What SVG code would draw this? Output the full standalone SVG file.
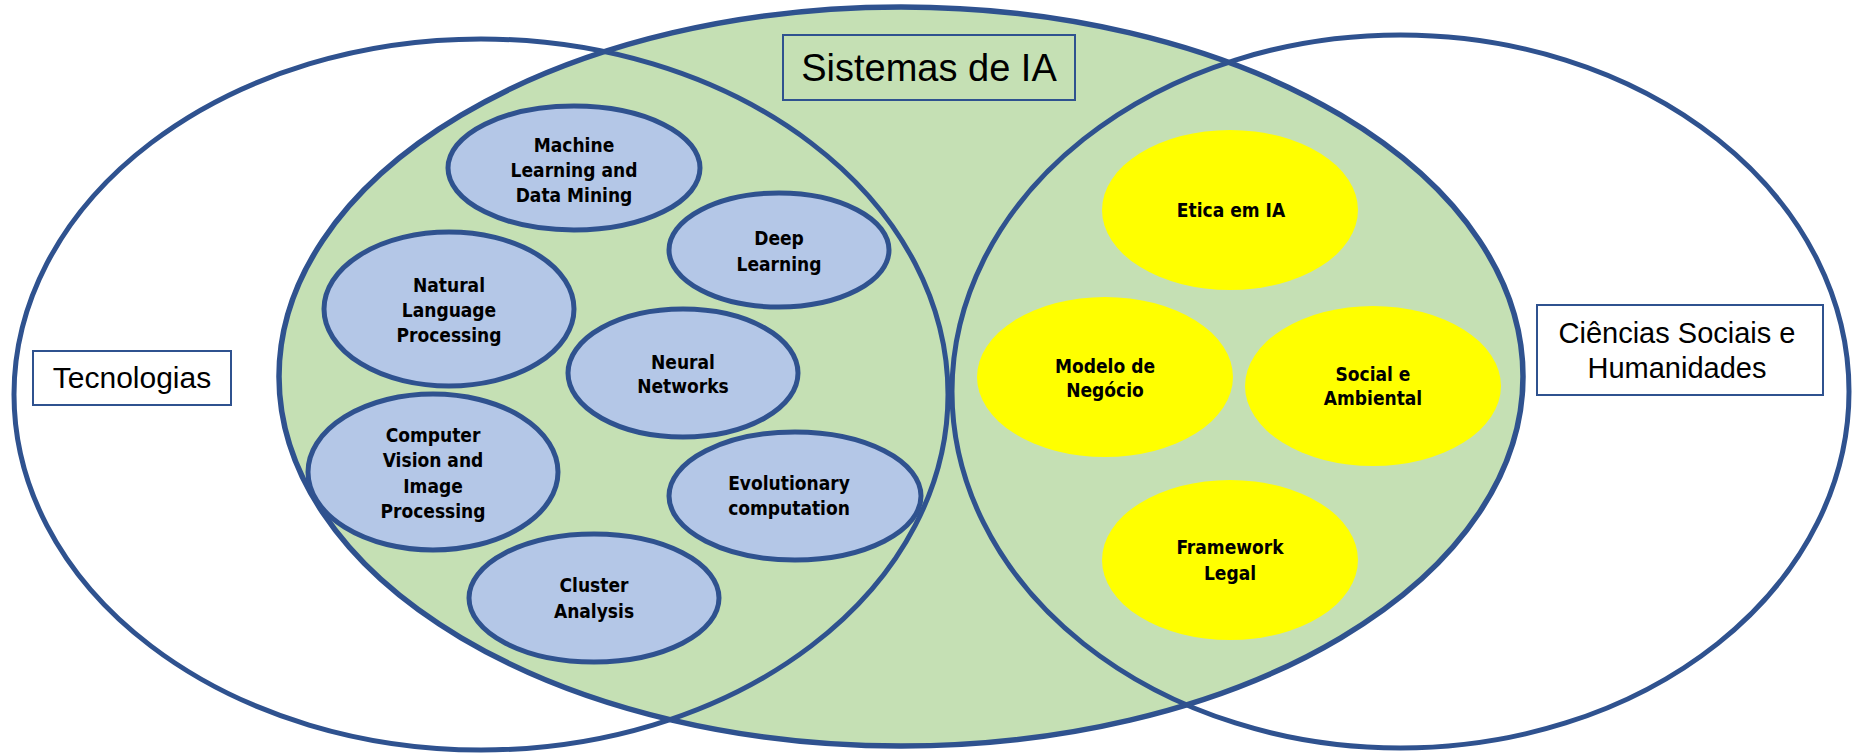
<svg xmlns="http://www.w3.org/2000/svg" width="1858" height="754" viewBox="0 0 1858 754">
<style>
.big{fill:none;stroke:#2F528F;stroke-width:5}
.tech{fill:#B4C7E7;stroke:#2F528F;stroke-width:5}
.soc{fill:#FFFF00;stroke:none}
.nt{font-family:'DejaVu Sans Condensed','DejaVu Sans',sans-serif;font-weight:bold;font-size:19px;fill:#000;text-anchor:middle}
.lbl{font-family:'Liberation Sans',Arial,sans-serif;fill:#000;text-anchor:middle}
.box{stroke:#2F528F;stroke-width:2}
</style>
<rect width="1858" height="754" fill="#FFFFFF"/>
<g id="backgrounds">
<ellipse cx="481" cy="394.5" rx="467" ry="355.5" fill="#FFFFFF"/>
<ellipse cx="1400.5" cy="391.5" rx="448.5" ry="356.5" fill="#FFFFFF"/>
<ellipse cx="901" cy="376.5" rx="622" ry="369.5" fill="#C5E0B4"/>
</g>
<g id="tecnologias-set">
<ellipse class="big" cx="481" cy="394.5" rx="467" ry="355.5"/>
</g>
<g id="ciencias-set">
<ellipse class="big" cx="1400.5" cy="391.5" rx="448.5" ry="356.5"/>
</g>
<g id="sistemas-set">
<ellipse class="big" cx="901" cy="376.5" rx="622" ry="369.5" style="stroke-width:5.5"/>
</g>
<g id="label-sistemas">
<rect class="box" x="783" y="35" width="292" height="65" fill="#C5E0B4"/>
<text class="lbl" x="929" y="81" font-size="38">Sistemas de IA</text>
</g>
<g id="label-tecnologias">
<rect class="box" x="33" y="351" width="198" height="54" fill="#FFFFFF"/>
<text class="lbl" x="132" y="388" font-size="30">Tecnologias</text>
</g>
<g id="label-ciencias">
<rect class="box" x="1537" y="305" width="286" height="90" fill="#FFFFFF"/>
<text class="lbl" x="1677" y="343" font-size="29">Ciências Sociais e</text>
<text class="lbl" x="1677" y="378" font-size="29">Humanidades</text>
</g>
<g id="node-ml">
<ellipse class="tech" cx="574" cy="168" rx="126" ry="62"/>
<text class="nt" x="574" y="152">Machine</text>
<text class="nt" x="574" y="177">Learning and</text>
<text class="nt" x="574" y="202">Data Mining</text>
</g>
<g id="node-deep">
<ellipse class="tech" cx="779" cy="250" rx="110" ry="57"/>
<text class="nt" x="779" y="245">Deep</text>
<text class="nt" x="779" y="271">Learning</text>
</g>
<g id="node-nlp">
<ellipse class="tech" cx="449" cy="309" rx="125" ry="77"/>
<text class="nt" x="449" y="292">Natural</text>
<text class="nt" x="449" y="317">Language</text>
<text class="nt" x="449" y="342">Processing</text>
</g>
<g id="node-nn">
<ellipse class="tech" cx="683" cy="373" rx="115" ry="64"/>
<text class="nt" x="683" y="369">Neural</text>
<text class="nt" x="683" y="393">Networks</text>
</g>
<g id="node-cv">
<ellipse class="tech" cx="433" cy="472" rx="125" ry="78"/>
<text class="nt" x="433" y="442">Computer</text>
<text class="nt" x="433" y="467">Vision and</text>
<text class="nt" x="433" y="493">Image</text>
<text class="nt" x="433" y="518">Processing</text>
</g>
<g id="node-evo">
<ellipse class="tech" cx="795" cy="496" rx="126" ry="64"/>
<text class="nt" x="789" y="490">Evolutionary</text>
<text class="nt" x="789" y="515">computation</text>
</g>
<g id="node-cluster">
<ellipse class="tech" cx="594" cy="598" rx="125" ry="64"/>
<text class="nt" x="594" y="592">Cluster</text>
<text class="nt" x="594" y="618">Analysis</text>
</g>
<g id="node-etica">
<ellipse class="soc" cx="1230" cy="210" rx="128" ry="80"/>
<text class="nt" x="1231" y="217">Etica em IA</text>
</g>
<g id="node-modelo">
<ellipse class="soc" cx="1105" cy="377" rx="128" ry="80"/>
<text class="nt" x="1105" y="373">Modelo de</text>
<text class="nt" x="1105" y="397">Negócio</text>
</g>
<g id="node-social">
<ellipse class="soc" cx="1373" cy="386" rx="128" ry="80"/>
<text class="nt" x="1373" y="381">Social e</text>
<text class="nt" x="1373" y="405">Ambiental</text>
</g>
<g id="node-framework">
<ellipse class="soc" cx="1230" cy="560" rx="128" ry="80"/>
<text class="nt" x="1230" y="554">Framework</text>
<text class="nt" x="1230" y="580">Legal</text>
</g>
<g id="connectors"/>
</svg>
